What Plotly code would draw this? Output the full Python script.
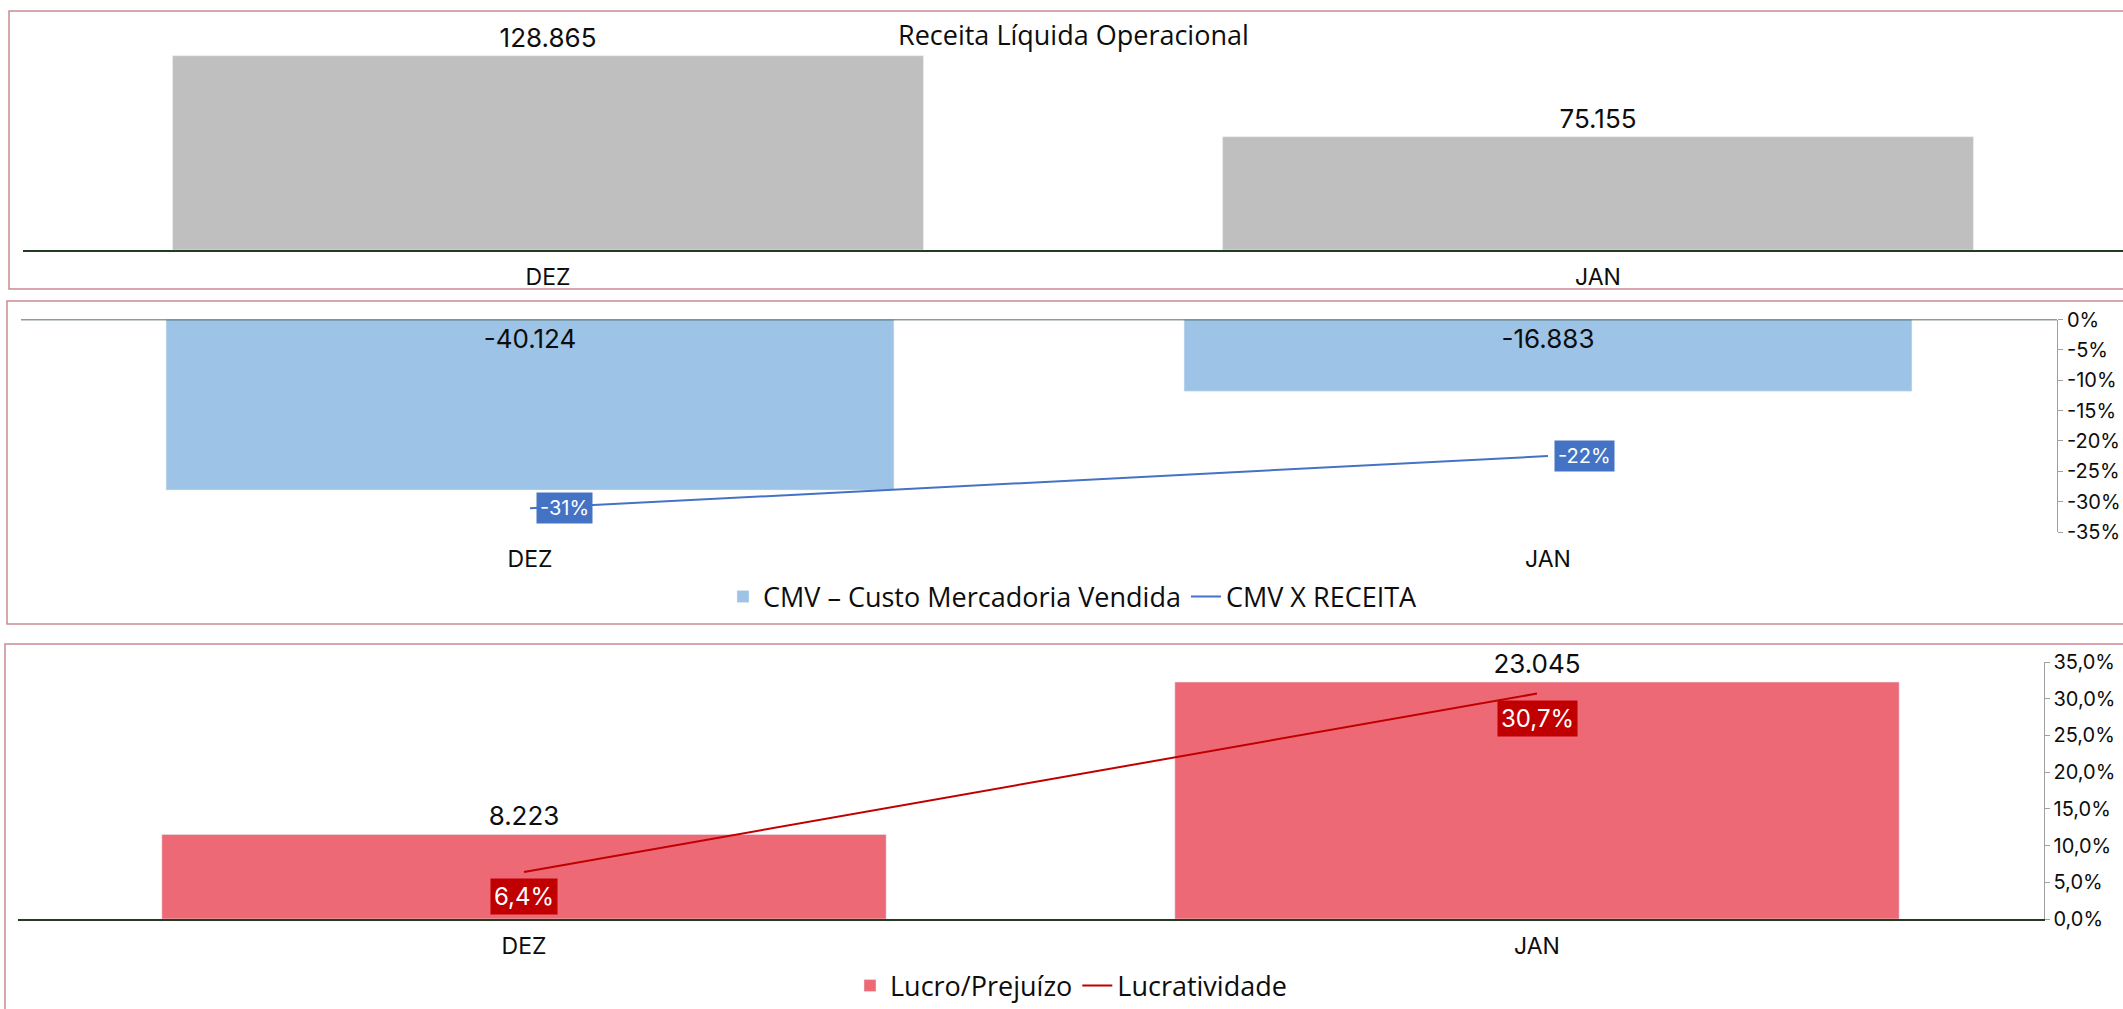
import plotly.graph_objects as go

# dados do painel
MONTHS = ["DEZ", "JAN"]
RECEITA = [128865, 75155]
CMV = [-40124, -16883]
CMV_PCT = [-0.311, -0.225]
LUCRO = [8223, 23045]
LUCRATIVIDADE = [0.064, 0.307]

CMV_TICKVALS = [0, -0.05, -0.10, -0.15, -0.20, -0.25, -0.30, -0.35]
CMV_TICKTEXT = ["0%", "-5%", "-10%", "-15%", "-20%", "-25%", "-30%", "-35%"]
LUCRO_TICKVALS = [0, 0.05, 0.10, 0.15, 0.20, 0.25, 0.30, 0.35]
LUCRO_TICKTEXT = ["0,0%", "5,0%", "10,0%", "15,0%", "20,0%", "25,0%", "30,0%", "35,0%"]

# cores
COLORS = {
    "receita": "#BFBFBF",
    "cmv": "#9DC3E6",
    "cmv_line": "#4472C4",
    "lucro": "#EC6975",
    "lucro_line": "#C00000",
    "base": "#233A23",
    "border": "#C98A93",
    "axis": "#A0A0A0",
    "text": "#0D0D0D",
}
NUM_FONT = "Inter"
TXT_FONT = "Open Sans"

W, H = 2123, 1009


def px(x):
    return x / W


def py(y):
    return 1 - y / H


def fmt_int(v):
    return f"{v:,}".replace(",", ".")


def fmt_pct0(v):
    return f"{v * 100:.0f}%"


def fmt_pct1(v):
    return f"{v * 100:.1f}%".replace(".", ",")


fig = go.Figure()

# Receita Líquida Operacional
fig.add_trace(go.Bar(
    x=MONTHS, y=RECEITA, xaxis="x", yaxis="y",
    marker=dict(color=COLORS["receita"]),
    text=[fmt_int(v) for v in RECEITA],
    textposition="outside",
    textfont=dict(family=NUM_FONT, size=26, color=COLORS["text"]),
    cliponaxis=False,
    showlegend=False,
))

# CMV
fig.add_trace(go.Bar(
    x=MONTHS, y=CMV, xaxis="x2", yaxis="y2",
    name="CMV – Custo Mercadoria Vendida",
    marker=dict(color=COLORS["cmv"]),
    text=[fmt_int(v) for v in CMV],
    textposition="inside",
    insidetextanchor="start",
    textfont=dict(family=NUM_FONT, size=26, color=COLORS["text"]),
    legend="legend",
))
fig.add_trace(go.Scatter(
    x=MONTHS, y=CMV_PCT, xaxis="x2", yaxis="y3",
    name="CMV X RECEITA",
    mode="lines",
    line=dict(color=COLORS["cmv_line"], width=2),
    legend="legend",
))

# Lucro
fig.add_trace(go.Bar(
    x=MONTHS, y=LUCRO, xaxis="x3", yaxis="y4",
    name="Lucro/Prejuízo",
    marker=dict(color=COLORS["lucro"]),
    text=[fmt_int(v) for v in LUCRO],
    textposition="outside",
    textfont=dict(family=NUM_FONT, size=26, color=COLORS["text"]),
    cliponaxis=False,
    legend="legend2",
))
fig.add_trace(go.Scatter(
    x=MONTHS, y=LUCRATIVIDADE, xaxis="x3", yaxis="y5",
    name="Lucratividade",
    mode="lines",
    line=dict(color=COLORS["lucro_line"], width=2),
    legend="legend2",
))

cat_axis = dict(
    showgrid=False, zeroline=False, fixedrange=True, automargin=False,
    ticks="outside", ticklen=6, tickcolor="rgba(0,0,0,0)",
    tickfont=dict(family=NUM_FONT, size=23, color=COLORS["text"]),
)
hidden_y = dict(visible=False, showgrid=False, zeroline=False,
                fixedrange=True, automargin=False)
pct_axis = dict(
    showgrid=False, zeroline=False, fixedrange=True, automargin=False,
    showline=True, linecolor=COLORS["axis"], linewidth=1,
    ticks="outside", ticklen=5, tickcolor=COLORS["axis"],
    tickmode="array",
    tickfont=dict(family=NUM_FONT, size=20, color=COLORS["text"]),
)

# rótulos percentuais com caixa
annotations = [dict(
    text="Receita Líquida Operacional",
    x=px(1073), y=py(35), xref="paper", yref="paper",
    xanchor="center", yanchor="middle", showarrow=False,
    font=dict(family=TXT_FONT, size=27, color=COLORS["text"]),
)]
for m, v in zip(MONTHS, CMV_PCT):
    annotations.append(dict(
        text=fmt_pct0(v), x=m, y=v, xref="x2", yref="y3",
        xanchor="left", yanchor="middle", xshift=6, showarrow=False,
        bgcolor=COLORS["cmv_line"], borderpad=3,
        font=dict(family=NUM_FONT, size=20, color="white"),
    ))
for m, v in zip(MONTHS, LUCRATIVIDADE):
    annotations.append(dict(
        text=fmt_pct1(v), x=m, y=v, xref="x3", yref="y5",
        xanchor="center", yanchor="top", yshift=-6, showarrow=False,
        bgcolor=COLORS["lucro_line"], borderpad=3,
        font=dict(family=NUM_FONT, size=24, color="white"),
    ))

border = dict(type="rect", xref="paper", yref="paper",
              line=dict(color=COLORS["border"], width=1.5),
              fillcolor="rgba(0,0,0,0)", layer="below")
shapes = [
    dict(border, x0=px(9), x1=1.02, y0=py(289), y1=py(11)),
    dict(border, x0=px(7), x1=1.02, y0=py(624), y1=py(301)),
    dict(border, x0=px(5), x1=1.02, y0=-0.05, y1=py(644)),
    # linha zero do CMV (no topo do gráfico)
    dict(type="line", xref="x2 domain", yref="y2", x0=0, x1=1, y0=0, y1=0,
         line=dict(color=COLORS["base"], width=1.5)),
]

legend_style = dict(
    orientation="h", xanchor="center", yanchor="middle",
    font=dict(family=TXT_FONT, size=27, color=COLORS["text"]),
    bgcolor="rgba(0,0,0,0)",
)

fig.update_layout(
    width=W, height=H,
    margin=dict(l=0, r=0, t=0, b=0, autoexpand=False),
    paper_bgcolor="white", plot_bgcolor="rgba(0,0,0,0)",
    bargap=0.285,
    xaxis=dict(cat_axis, domain=[px(23), 1], anchor="y",
               showline=True, linecolor=COLORS["base"], linewidth=1.5),
    yaxis=dict(hidden_y, domain=[py(250), py(39)], range=[0, 140000]),
    xaxis2=dict(cat_axis, domain=[px(21), px(2057)], anchor="y2", showline=False),
    yaxis2=dict(hidden_y, domain=[py(532), py(319.5)], range=[-50000, 0]),
    yaxis3=dict(pct_axis, overlaying="y2", side="right", anchor="x2",
                range=[-0.35, 0], tickvals=CMV_TICKVALS, ticktext=CMV_TICKTEXT),
    xaxis3=dict(cat_axis, domain=[px(17.5), px(2043.5)], anchor="y4",
                showline=True, linecolor=COLORS["base"], linewidth=1.5),
    yaxis4=dict(hidden_y, domain=[py(919), py(662)], range=[0, 25000]),
    yaxis5=dict(pct_axis, overlaying="y4", side="right", anchor="x3",
                range=[0, 0.35], tickvals=LUCRO_TICKVALS, ticktext=LUCRO_TICKTEXT),
    legend=dict(legend_style, x=px(1073), y=py(597)),
    legend2=dict(legend_style, x=px(1071), y=py(986)),
    annotations=annotations,
    shapes=shapes,
)

fig.write_html(
    "out.html",
    config={"displayModeBar": False},
    post_script="document.body.style.margin='0';document.body.style.overflow='hidden';",
)
